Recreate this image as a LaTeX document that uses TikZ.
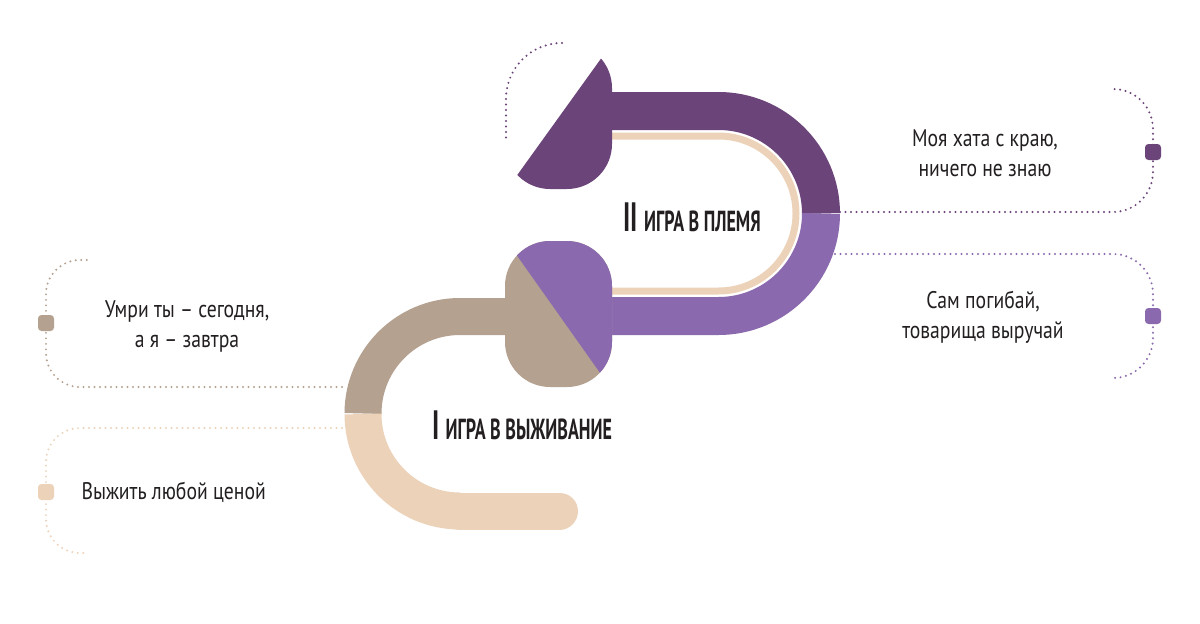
\documentclass[tikz,border=0pt]{standalone}
\usepackage{fontspec}
\setmainfont{PT Sans}
\begin{document}
\begin{tikzpicture}[x=1pt,y=-1pt]
\definecolor{dpur}{HTML}{6B4479}
\definecolor{lpur}{HTML}{8A69AE}
\definecolor{taupe}{HTML}{B5A190}
\definecolor{beige}{HTML}{EDD2BA}
\definecolor{ink}{HTML}{231F20}
\tikzset{
  dots/.style={line width=2.2pt,dash pattern=on 0pt off 5.5pt,line cap=round},
  marker/.style={minimum size=16pt,inner sep=0pt,rounded corners=3.5pt},
  lbl/.style={text=ink,font=\fontsize{24}{30}\selectfont,align=center},
  ttl/.style={text=ink,font=\bfseries}
}
\useasboundingbox[fill=white] (0,0) rectangle (1200,624);
% upper U
\draw[dpur,line width=38pt] (612,111) -- (718.5,111) arc[start angle=-90,end angle=0,radius=102.5];
\draw[lpur,line width=38pt] (821,213.5) arc[start angle=0,end angle=90,radius=102.5] -- (612,316);
\draw[beige,line width=7pt] (612,136) -- (718.5,136) arc[start angle=-90,end angle=90,radius=77.5] -- (612,291);
% lower U
\draw[taupe,line width=37pt] (505,316.5) -- (460,316.5) arc[start angle=-90,end angle=-180,radius=97];
\draw[beige,line width=37pt] (363,414) arc[start angle=180,end angle=90,radius=97];
\draw[beige,line width=37pt,line cap=round] (460,511) -- (559.5,511);
% lower rounded block
\fill[taupe,rounded corners=45pt] (505,241) rectangle (612,387);
\begin{scope}
\clip (438,144) -- (678,483) -- (700,483) -- (700,144) -- cycle;
\fill[lpur,rounded corners=45pt] (505,241) rectangle (612,387);
\end{scope}
% top shape
\begin{scope}
\clip (436,288) -- (682,-54) -- (700,-54) -- (700,288) -- cycle;
\fill[dpur,rounded corners=45pt] (505,43) rectangle (612,189);
\end{scope}
% dotted connectors
\coordinate (r1a) at (840,212); \coordinate (r2a) at (835,254);
\coordinate (tla) at (562,43);
\coordinate (l1a) at (342,387); \coordinate (l2a) at (342,428);
\node[marker,fill=dpur] (m1) at (1153,152) {};
\node[marker,fill=lpur] (m2) at (1153,316) {};
\node[marker,fill=taupe] (m3) at (46,323) {};
\node[marker,fill=beige] (m4) at (46,492) {};
\draw[dots,dpur] (r1a) -- (1113,212) arc[start angle=90,end angle=0,radius=40] -- (1153,129) arc[start angle=0,end angle=-90,radius=40];
\draw[dots,lpur] (r2a) -- (1113,254) arc[start angle=-90,end angle=0,radius=40] -- (1153,338) arc[start angle=0,end angle=90,radius=40];
\draw[dots,dpur] (tla) arc[start angle=-90,end angle=-180,radius=56] -- (506,143);
\draw[dots,taupe] (l1a) -- (80,387) arc[start angle=90,end angle=180,radius=34] -- (46,294) arc[start angle=180,end angle=270,radius=34] -- (87,260);
\draw[dots,beige] (l2a) -- (80,428) arc[start angle=-90,end angle=-180,radius=34] -- (46,519) arc[start angle=180,end angle=90,radius=34] -- (88,553);
% titles
\node[ttl] (t2) at (692,217) {\scalebox{0.62}[1]{\fontsize{41}{41}\selectfont II \fontsize{29}{29}\selectfont ИГРА В ПЛЕМЯ}};
\node[ttl] (t1) at (522,425) {\scalebox{0.62}[1]{\fontsize{41}{41}\selectfont I \fontsize{29}{29}\selectfont ИГРА В ВЫЖИВАНИЕ}};
% labels
\node[lbl] (a) at (985,153) {\scalebox{0.82}[1]{Моя хата с краю,}\\\scalebox{0.82}[1]{ничего не знаю}};
\node[lbl] (b) at (983,317) {\scalebox{0.82}[1]{Сам погибай,}\\\scalebox{0.82}[1]{товарища выручай}};
\node[lbl] (c) at (187,326) {\scalebox{0.82}[1]{Умри ты – сегодня,}\\\scalebox{0.82}[1]{а я – завтра}};
\node[lbl,anchor=west] (d) at (78,492) {\scalebox{0.82}[1]{Выжить любой ценой}};
\end{tikzpicture}
\end{document}
